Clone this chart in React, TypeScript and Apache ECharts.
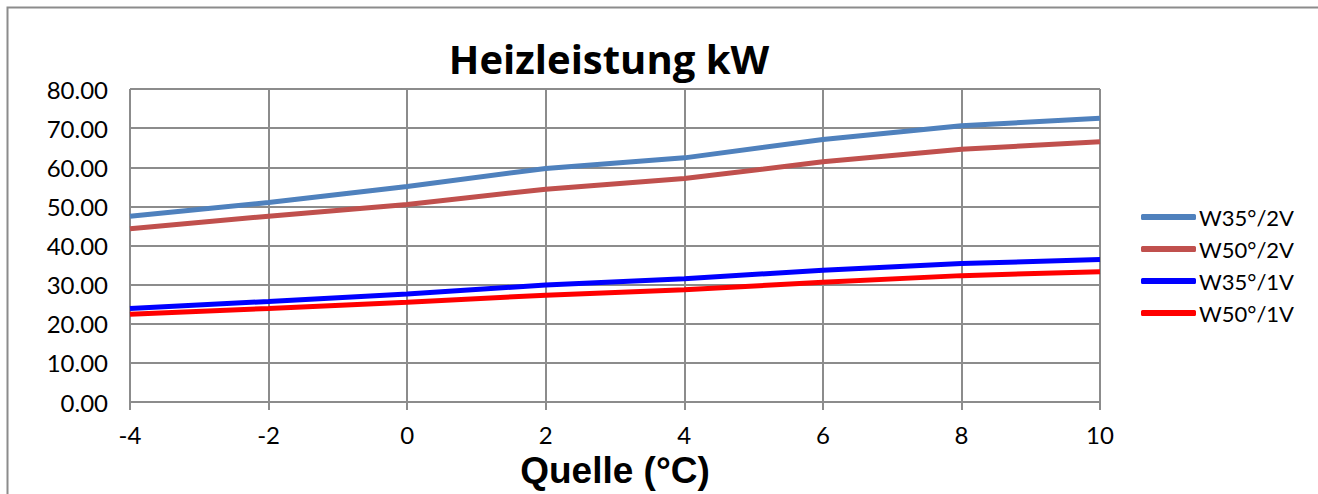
import React, { useEffect, useRef } from "react";
import * as echarts from "echarts";

const xValues = [-4, -2, 0, 2, 4, 6, 8, 10];
const w35_2V = [47.5, 51.0, 55.1, 59.7, 62.4, 67.1, 70.6, 72.5];
const w50_2V = [44.3, 47.5, 50.5, 54.4, 57.1, 61.4, 64.6, 66.5];
const w35_1V = [23.9, 25.7, 27.6, 29.9, 31.5, 33.7, 35.4, 36.4];
const w50_1V = [22.4, 23.9, 25.5, 27.3, 28.7, 30.6, 32.3, 33.3];
const seriesNames = ["W35°/2V", "W50°/2V", "W35°/1V", "W50°/1V"];
const seriesColors = ["#4F81BD", "#C0504D", "#0000FF", "#FF0000"];

export default function App() {
  const ref = useRef<HTMLDivElement>(null);
  useEffect(() => {
    document.body.style.margin = "0";
    const chart = echarts.init(ref.current!, null, { renderer: "svg" });
    const data = [w35_2V, w50_2V, w35_1V, w50_1V];
    const gridColor = "#8c8c8c";
    chart.setOption({
      animation: false,
      backgroundColor: "#ffffff",
      title: {
        text: "Heizleistung kW",
        left: 604,
        textAlign: "center",
        top: 33,
        textStyle: { fontFamily: "Open Sans", fontWeight: "bold", fontSize: 40, color: "#000" },
      },
      graphic: [
        {
          type: "rect",
          shape: { x: 7.5, y: 7.5, width: 1400, height: 600 },
          style: { fill: "none", stroke: "#8c8c8c", lineWidth: 2 },
          silent: true,
        },
      ],
      legend: {
        orient: "vertical",
        left: 1136,
        top: 201,
        icon: "roundRect",
        itemWidth: 55,
        itemHeight: 6,
        itemGap: 10,
        textStyle: { fontFamily: "Lato", fontSize: 22, color: "#000", padding: [0, 0, 0, -2] },
        data: seriesNames,
      },
      grid: { left: 130, right: 218, top: 89, bottom: 89 },
      xAxis: {
        type: "value",
        min: -4,
        max: 10,
        interval: 2,
        name: "Quelle (°C)",
        nameLocation: "middle",
        nameGap: 50,
        nameTextStyle: { fontFamily: "Liberation Sans", fontWeight: "bold", fontSize: 37, color: "#000" },
        axisLine: { show: true, lineStyle: { color: gridColor, width: 2 } },
        axisTick: { show: true, length: 8, lineStyle: { color: gridColor, width: 2 } },
        axisLabel: { fontFamily: "Lato", fontSize: 24, color: "#000", margin: 20 },
        splitLine: { show: true, lineStyle: { color: gridColor, width: 2 } },
      },
      yAxis: {
        type: "value",
        min: 0,
        max: 80,
        interval: 10,
        axisLine: { show: true, lineStyle: { color: gridColor, width: 2 } },
        axisTick: { show: true, length: 6, lineStyle: { color: gridColor, width: 2 } },
        axisLabel: {
          fontFamily: "Lato",
          fontSize: 24,
          color: "#000",
          margin: 22,
          formatter: (v: number) => v.toFixed(2),
        },
        splitLine: { show: true, lineStyle: { color: gridColor, width: 2 } },
      },
      series: data.map((d, i) => ({
        name: seriesNames[i],
        type: "line",
        symbol: "none",
        data: xValues.map((x, j) => [x, d[j]]),
        lineStyle: { color: seriesColors[i], width: 5 },
        itemStyle: { color: seriesColors[i] },
      })),
    });
    return () => chart.dispose();
  }, []);
  return <div ref={ref} style={{ width: 1318, height: 494 }} />;
}
